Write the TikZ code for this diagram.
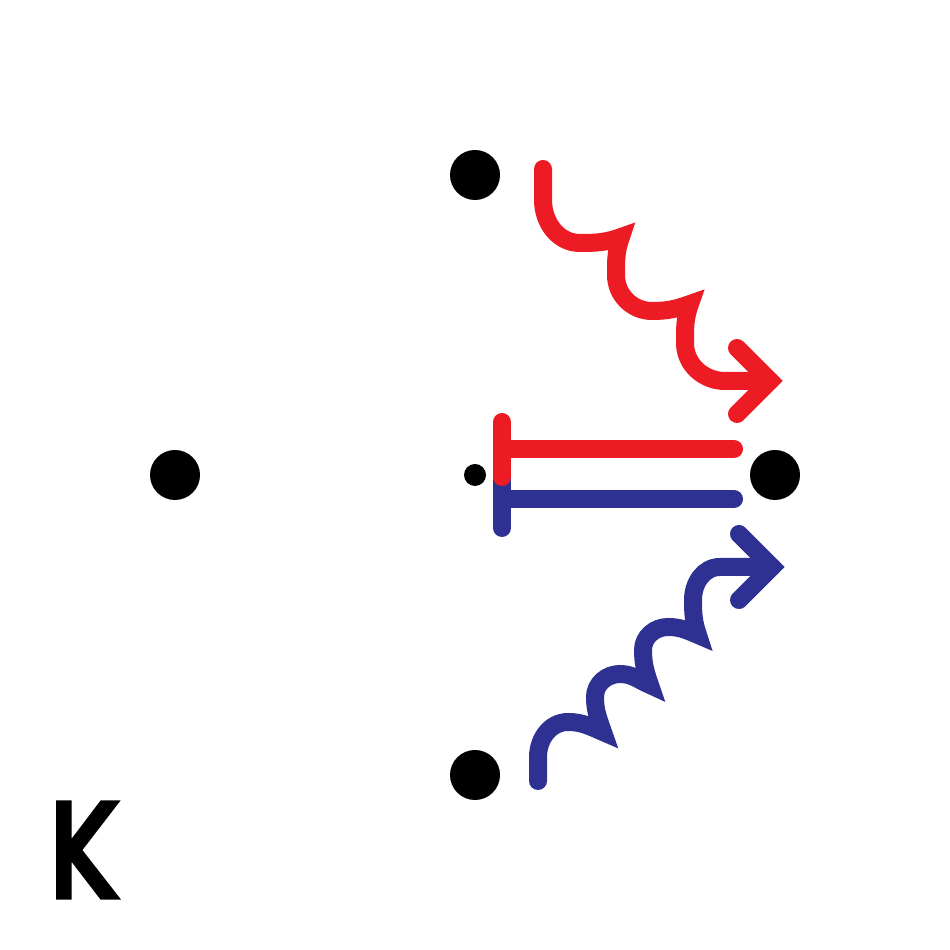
\documentclass[tikz,border=0pt]{standalone}
\usepackage{fontspec}
\newfontfamily\klabel{Poppins}[FakeBold=4.5]
\definecolor{wred}{HTML}{ED1C24}
\definecolor{wblue}{HTML}{2E3192}
\begin{document}
\begin{tikzpicture}[x=1cm,y=1cm,
	dot/.style={circle,fill=black,inner sep=0pt,minimum size=0.5cm},
	rline/.style={wred,line width=0.18cm,line cap=round},
	bline/.style={wblue,line width=0.18cm,line cap=round}]
	\useasboundingbox (0,0) rectangle (9.5,9.5);
	% points
	\node[dot] (top) at (4.75,7.75) {};
	\node[dot] (left) at (1.75,4.75) {};
	\node[dot] (right) at (7.75,4.75) {};
	\node[dot] (bot) at (4.75,1.75) {};
	\node[dot,minimum size=0.22cm] (mid) at (4.75,4.75) {};
	\node[font=\klabel\fontsize{38}{40}\selectfont,inner sep=0pt,xscale=0.85] (lab) at (0.84,1.00) {K};
	% ends of the connectors
	\coordinate (rbar) at (5.02,5.01);
	\coordinate (rend) at (7.34,5.01);
	\coordinate (bbar) at (5.02,4.51);
	\coordinate (bend) at (7.34,4.51);
	\coordinate (rs) at (5.43,7.81);
	\coordinate (re) at (7.70,5.69);
	\coordinate (bs) at (5.38,1.69);
	\coordinate (be) at (7.72,3.83);
	% blocking bars
	\draw[bline] (5.02,4.80) -- (5.02,4.22);
	\draw[bline] (bbar) -- (bend);
	\draw[rline] (5.02,5.28) -- (5.02,4.73);
	\draw[rline] (rbar) -- (rend);
	% wavy arrows
	\draw[rline] (rs) -- (5.43,7.50) to[out=-90,in=180] (5.80,7.07) to[out=0,in=200] (6.21,7.13)
		to[out=250,in=90] (6.16,6.75) to[out=-90,in=180] (6.52,6.39) to[out=0,in=200] (6.90,6.46)
		to[out=250,in=90] (6.85,6.07) to[out=-90,in=180] (7.25,5.69) -- (re);
	\draw[rline] (7.37,6.02) -- (re) -- (7.37,5.36);
	\draw[bline] (bs) -- (5.38,1.93) to[out=90,in=180] (5.68,2.28) to[out=0,in=157] (6.03,2.18)
		to[out=109,in=-90] (5.95,2.53) to[out=90,in=180] (6.20,2.76) to[out=0,in=157] (6.50,2.65)
		to[out=109,in=-90] (6.43,3.00) to[out=90,in=180] (6.68,3.23) to[out=0,in=157] (6.98,3.15)
		to[out=109,in=-90] (6.93,3.50) to[out=90,in=180] (7.20,3.83) -- (be);
	\draw[bline] (7.39,4.16) -- (be) -- (7.39,3.50);
\end{tikzpicture}
\end{document}
